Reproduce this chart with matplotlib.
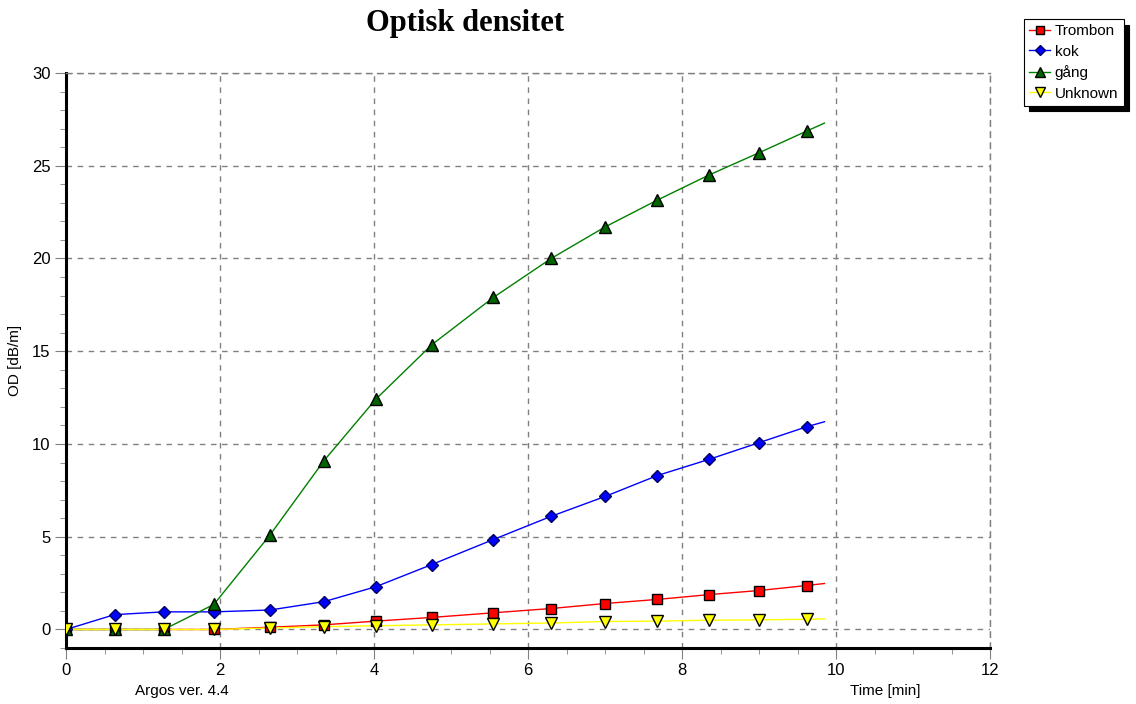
import numpy as np
import matplotlib
matplotlib.use('Agg')
import matplotlib.pyplot as plt
from matplotlib.ticker import MultipleLocator

plt.rcParams['font.family'] = ['Liberation Sans', 'DejaVu Sans']

# sample times [min]
t = [0, 0.63, 1.27, 1.92, 2.65, 3.35, 4.02, 4.75, 5.55, 6.3, 7.0, 7.68, 8.35, 9.0, 9.62]
t_end = 9.85

trombon = [0, 0, 0, 0, 0.12, 0.25, 0.45, 0.65, 0.9, 1.13, 1.4, 1.62, 1.88, 2.1, 2.37]
kok = [0, 0.8, 0.95, 0.95, 1.05, 1.5, 2.3, 3.5, 4.85, 6.1, 7.17, 8.3, 9.17, 10.07, 10.93]
gang = [0, 0, 0, 1.35, 5.1, 9.1, 12.4, 15.35, 17.9, 20.0, 21.7, 23.15, 24.5, 25.7, 26.87]
unknown = [0, 0, 0, 0, 0.08, 0.15, 0.2, 0.25, 0.3, 0.35, 0.43, 0.45, 0.5, 0.52, 0.55]

# value where each line stops (after last marker)
end_vals = {'Trombon': 2.48, 'kok': 11.2, 'gång': 27.3, 'Unknown': 0.57}

series = [
    ('Trombon', trombon, '#ff0000', 's', '#ff0000', 7),
    ('kok', kok, '#0000ff', 'D', '#0000ff', 6),
    ('gång', gang, '#008000', '^', '#006400', 8),
    ('Unknown', unknown, '#ffff00', 'v', '#ffff00', 8),
]

fig = plt.figure(figsize=(11.36, 7.04), dpi=100)
ax = fig.add_axes([0.0581, 0.0795, 0.8134, 0.8168])

for name, vals, col, mk, fc, ms in series:
    xs = t + [t_end]
    ys = vals + [end_vals[name]]
    ax.plot(xs, ys, color=col, lw=1.0, zorder=3)
    ax.plot(t, vals, ls='none', marker=mk, ms=ms, mfc=fc, mec='black' if name != 'kok' else '#000060',
            mew=1.0, zorder=4)

ax.set_xlim(0, 12)
ax.set_ylim(-1, 30)
ax.xaxis.set_major_locator(MultipleLocator(2))
ax.xaxis.set_minor_locator(MultipleLocator(0.5))
ax.yaxis.set_major_locator(MultipleLocator(5))
ax.yaxis.set_minor_locator(MultipleLocator(1))
ax.grid(True, which='major', color='#808080', ls=(0, (4, 4)), lw=1)
ax.tick_params(which='major', length=8, color='#808080', labelsize=12, pad=3)
ax.tick_params(which='minor', length=4, color='#808080')

for s in ['left', 'bottom']:
    ax.spines[s].set_linewidth(2.2)
    ax.spines[s].set_color('black')
for s in ['top', 'right']:
    ax.spines[s].set_linestyle((0, (4, 4)))
    ax.spines[s].set_color('#808080')
    ax.spines[s].set_linewidth(1)

ax.set_ylabel('OD [dB/m]', fontsize=11, labelpad=7)
fig.text(0.409, 0.966, 'Optisk densitet', fontsize=22, fontweight='bold',
         family='Liberation Serif', ha='center', va='center')
fig.text(0.160, 0.018, 'Argos ver. 4.4', fontsize=11, ha='center', va='center')
fig.text(0.779, 0.018, 'Time [min]', fontsize=11, ha='center', va='center')

handles = []
for name, vals, col, mk, fc, ms in series:
    h, = ax.plot([], [], color=col, lw=1.0, marker=mk, ms=ms - 1, mfc=fc,
                 mec='black' if name != 'kok' else '#000060')
    handles.append(h)
leg = fig.legend(handles, [s[0] for s in series], loc='upper left',
                 bbox_to_anchor=(0.901, 0.973), fontsize=11, frameon=True,
                 fancybox=False, handlelength=1.4, handletextpad=0.3,
                 borderpad=0.35, labelspacing=0.42, borderaxespad=0,
                 shadow={'color': 'black', 'alpha': 1, 'ox': 4, 'oy': -4})
leg.get_frame().set_edgecolor('black')
leg.get_frame().set_linewidth(0.8)

fig.savefig('out.png', dpi=100)
